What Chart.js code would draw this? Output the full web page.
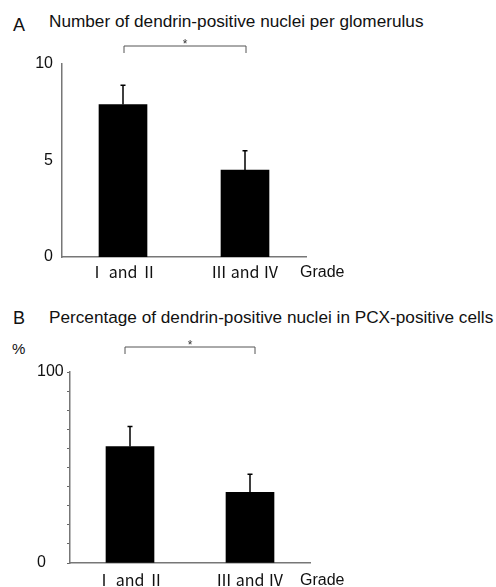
<!DOCTYPE html>
<html>
<head>
<meta charset="utf-8">
<script src="https://cdn.jsdelivr.net/npm/chart.js@4.4.0/dist/chart.umd.min.js"></script>
<style>
    body { margin: 0; background: #fff; width: 496px; height: 587px; overflow: hidden; position: relative;
           font-family: "Liberation Sans", Arial, sans-serif; color: #111; }
    .lbl { position: absolute; line-height: 1; white-space: nowrap; }
    canvas { position: absolute; left: 0; }
</style>
</head>
<body>
<div class="lbl" style="left:13px;top:16px;font-size:18px">A</div>
<div class="lbl" style="left:49px;top:13px;font-size:17.2px">Number of dendrin-positive nuclei per glomerulus</div>
<canvas id="chartA" width="496" height="290" style="top:0"></canvas>

<div class="lbl" style="left:13px;top:309px;font-size:18px">B</div>
<div class="lbl" style="left:49px;top:309px;font-size:17.2px">Percentage of dendrin-positive nuclei in PCX-positive cells</div>
<div class="lbl" style="left:12px;top:341px;font-size:15px">%</div>
<canvas id="chartB" width="496" height="297" style="top:290px"></canvas>

<script>
// ---------------------------
// Data
// ---------------------------
const grades = ['Ⅰ and Ⅱ', 'Ⅲ and Ⅳ'];
const nucleiMean = [7.9, 4.5];
const nucleiErr = [1.0, 1.0];
const pctMean = [61, 37];
const pctErr = [10.5, 9.5];
const ticksA = [0, 5, 10];
const ticksB = [0, 100];

const FONT = '"Liberation Sans", Arial, sans-serif';
const CAT_FONT = '"Noto Sans CJK JP", "Liberation Sans", sans-serif';

// ---------------------------
// Error bars, significance bracket, "Grade" label
// ---------------------------
const extras = {
    id: 'extras',
    afterDatasetsDraw(chart, args, opts) {
        const ctx = chart.ctx;
        const x = chart.scales.x, y = chart.scales.y;
        ctx.save();

        // error bars (upper only)
        ctx.strokeStyle = '#000';
        ctx.lineWidth = 1.5;
        opts.means.forEach((m, i) => {
            const px = x.getPixelForValue(i);
            const base = y.getPixelForValue(m);
            const top = y.getPixelForValue(m + opts.errs[i]);
            ctx.beginPath();
            ctx.moveTo(px, base);
            ctx.lineTo(px, top);
            ctx.moveTo(px - 2.5, top);
            ctx.lineTo(px + 2.5, top);
            ctx.stroke();
        });

        // bracket with asterisk
        const b = opts.bracket;
        const x1 = x.getPixelForValue(0) + b.dl;
        const x2 = x.getPixelForValue(1) + b.dr;
        ctx.strokeStyle = '#555';
        ctx.lineWidth = 1;
        ctx.beginPath();
        ctx.moveTo(x1, b.y + 7);
        ctx.lineTo(x1, b.y);
        ctx.lineTo(x2, b.y);
        ctx.lineTo(x2, b.y + 7);
        ctx.stroke();
        ctx.fillStyle = '#333';
        ctx.font = '12px ' + FONT;
        ctx.textAlign = 'center';
        ctx.textBaseline = 'middle';
        ctx.fillText('*', (x1 + x2) / 2, b.y - 1);

        // axis name to the right of the categories
        ctx.fillStyle = '#111';
        ctx.font = '16px ' + FONT;
        ctx.textAlign = 'left';
        ctx.fillText('Grade', x.right + opts.gradeDx, x.top + opts.gradeDy);
        ctx.restore();
    }
};

function makeChart(id, means, errs, cfg) {
    const box = cfg.box;
    const canvas = document.getElementById(id);
    return new Chart(canvas.getContext('2d'), {
        type: 'bar',
        data: {
            labels: grades,
            datasets: [{
                data: means,
                backgroundColor: '#000',
                borderWidth: 0,
                barThickness: 48
            }]
        },
        options: {
            responsive: false,
            animation: false,
            layout: { padding: { left: cfg.padLeft, top: box.top, right: canvas.width - box.right, bottom: 0 } },
            plugins: {
                legend: { display: false },
                tooltip: { enabled: false },
                extras: {
                    means: means,
                    errs: errs,
                    bracket: cfg.bracket,
                    gradeDx: cfg.gradeDx,
                    gradeDy: cfg.gradeDy
                }
            },
            scales: {
                x: {
                    type: 'category',
                    offset: true,
                    grid: { display: false, drawTicks: false },
                    border: { display: true, color: '#777', width: 1.5 },
                    ticks: { color: '#111', font: { size: 16, family: CAT_FONT }, padding: cfg.xPad, maxRotation: 0 },
                    afterFit: s => { s.height = canvas.height - box.bottom; }
                },
                y: {
                    min: 0,
                    max: cfg.max,
                    border: { display: true, color: '#777', width: 1.5 },
                    grid: cfg.grid,
                    ticks: {
                        stepSize: cfg.step,
                        autoSkip: false,
                        color: '#111',
                        font: { size: 16, family: FONT },
                        padding: cfg.yPad,
                        crossAlign: cfg.crossAlign,
                        callback: v => cfg.tickLabels.includes(v) ? String(v) : ''
                    },
                    afterFit: s => { s.width = box.left - cfg.padLeft; }
                }
            }
        },
        plugins: [extras]
    });
}

document.addEventListener('DOMContentLoaded', () => {
    makeChart('chartA', nucleiMean, nucleiErr, {
        box: { left: 62, top: 64, right: 306, bottom: 257 },
        padLeft: 0,
        max: 10, step: 5, tickLabels: ticksA,
        grid: { display: false, drawTicks: false },
        yPad: 9, xPad: 5, crossAlign: 'near',
        bracket: { y: 46, dl: 1, dr: 1 },
        gradeDx: -6, gradeDy: 16
    });

    makeChart('chartB', pctMean, pctErr, {
        box: { left: 70, top: 82, right: 310, bottom: 273 },
        padLeft: 37,
        max: 100, step: 10, tickLabels: ticksB,
        grid: { display: true, drawOnChartArea: false, drawTicks: true, tickLength: 3, color: '#666' },
        yPad: 4, xPad: 7, crossAlign: 'far',
        bracket: { y: 57, dl: -5, dr: 5 },
        gradeDx: -10, gradeDy: 18
    });
});
</script>
</body>
</html>
